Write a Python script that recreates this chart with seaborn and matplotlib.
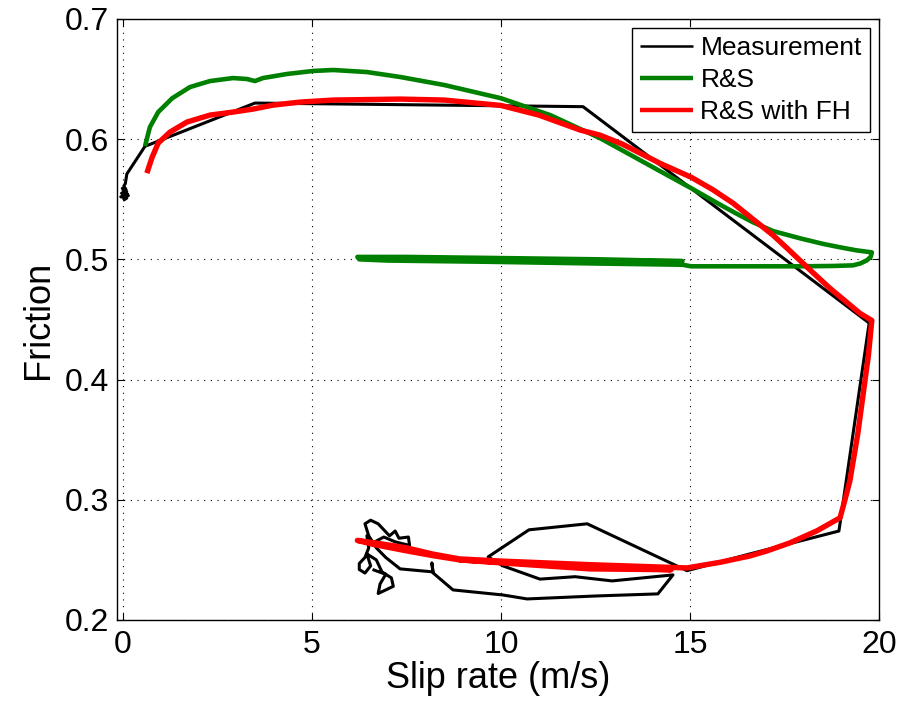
import matplotlib
matplotlib.use("Agg")
import matplotlib.pyplot as plt
import pandas as pd
import seaborn as sns

# Measured friction vs. slip rate (loop: acceleration, peak, deceleration, tangle at the end)
meas_x = [0.00, 0.10, -0.06, 0.12, -0.04, 0.14, 0.00, 0.10, -0.02, 0.08, 0.02, 0.06,
          0.10, 0.58, 3.49, 12.17, 19.74, 18.94,
          16.59, 14.92, 12.28, 10.74, 9.66, 10.05, 11.03, 11.96, 12.94, 14.55, 14.15,
          12.54, 10.69, 10.05, 8.73, 8.20, 8.17, 8.20, 7.33, 6.95, 6.70, 6.50, 6.40,
          6.55, 6.75, 7.05, 7.20, 7.30, 7.55, 7.58, 7.20, 6.90, 6.60, 6.45, 6.50, 6.40,
          6.25, 6.25, 6.40, 6.55, 6.45, 6.70, 6.85, 7.10, 7.15, 6.75, 6.80, 6.95, 6.60]
meas_y = [0.549, 0.551, 0.552, 0.554, 0.555, 0.553, 0.557, 0.556, 0.559, 0.558, 0.561,
          0.563, 0.571, 0.594, 0.630, 0.627, 0.447, 0.274,
          0.255, 0.241, 0.280, 0.275, 0.2525, 0.245, 0.234, 0.236, 0.2325, 0.2375, 0.2217,
          0.2200, 0.2175, 0.2208, 0.2250, 0.2392, 0.2475, 0.2400, 0.2425, 0.2520, 0.2600,
          0.2700, 0.2800, 0.2830, 0.2800, 0.2700, 0.2740, 0.2680, 0.2690, 0.2620, 0.2650,
          0.2690, 0.2640, 0.2700, 0.2600, 0.2520, 0.2470, 0.2420, 0.2390, 0.2450, 0.2550,
          0.2500, 0.2400, 0.2350, 0.2280, 0.2220, 0.2300, 0.2380, 0.2420]

# Rate-and-state model
rs_x = [0.58, 0.71, 0.93, 1.30, 1.77, 2.30, 2.91, 3.28, 3.49, 3.70, 4.34, 5.03, 5.56,
        6.45, 7.33, 8.50, 10.00, 11.30, 12.62, 13.68, 14.40, 15.03, 15.71, 16.20, 16.67,
        17.20, 17.91, 18.50, 18.97, 19.40, 19.81, 19.78, 19.68, 19.50, 19.31, 18.80,
        17.91, 15.03, 14.80, 12.60, 9.60, 7.00, 6.25, 6.20, 7.50, 9.60, 12.60, 14.80,
        12.60, 9.60, 7.50, 6.40]
rs_y = [0.594, 0.610, 0.6225, 0.634, 0.6433, 0.6483, 0.6508, 0.650, 0.6483, 0.6508,
        0.6542, 0.6567, 0.6575, 0.6558, 0.6517, 0.645, 0.634, 0.620, 0.6008, 0.5825,
        0.570, 0.5592, 0.5470, 0.5385, 0.5308, 0.5235, 0.5175, 0.5130, 0.510, 0.5075,
        0.5058, 0.502, 0.4992, 0.4965, 0.495, 0.4945, 0.4942, 0.4942, 0.4955, 0.4965,
        0.4980, 0.4990, 0.5000, 0.5020, 0.5020, 0.5012, 0.5000, 0.4985, 0.4985, 0.4995,
        0.5005, 0.5010]

# Rate-and-state model with flash heating
fh_x = [0.63, 0.77, 0.93, 1.24, 1.69, 2.30, 2.91, 3.44, 3.97, 4.68, 5.56, 7.33, 8.50,
        10.00, 11.00, 12.10, 12.62, 13.20, 14.20, 15.03, 15.60, 16.14, 16.77, 17.20,
        17.57, 18.25, 18.70, 19.15, 19.50, 19.81, 19.72, 19.63, 19.44, 19.23, 19.10,
        18.97, 18.36, 17.65, 17.04, 16.59, 15.80, 14.92, 12.35, 10.00, 8.90, 8.20, 7.50,
        6.90, 6.20, 6.60, 7.50, 8.20, 8.90, 10.00, 12.35, 14.50, 12.35, 10.00, 8.90]
fh_y = [0.5717, 0.585, 0.5967, 0.6058, 0.6142, 0.620, 0.6225, 0.625, 0.6283, 0.6308,
        0.6325, 0.6333, 0.6325, 0.628, 0.620, 0.6075, 0.6033, 0.5960, 0.580, 0.5683,
        0.558, 0.5467, 0.5308, 0.520, 0.5092, 0.489, 0.476, 0.4642, 0.455, 0.4492, 0.420,
        0.3992, 0.355, 0.3158, 0.300, 0.285, 0.2742, 0.2642, 0.2575, 0.2533, 0.2480,
        0.2433, 0.2460, 0.2490, 0.2508, 0.2548, 0.2600, 0.2630, 0.2662, 0.2630, 0.2575,
        0.2535, 0.2500, 0.2475, 0.2425, 0.2418, 0.2440, 0.2480, 0.2500]

x_ticks = [0, 5, 10, 15, 20]
y_ticks = [0.2, 0.3, 0.4, 0.5, 0.6, 0.7]
y_tick_labels = ["0.2", "0.3", "0.4", "0.5", "0.6", "0.7"]

sns.set_theme(style="white")
plt.rcParams["font.family"] = ["Liberation Sans", "DejaVu Sans"]
plt.rcParams.update({"text.color": "black", "axes.labelcolor": "black",
                     "xtick.color": "black", "ytick.color": "black",
                     "lines.solid_joinstyle": "round", "lines.solid_capstyle": "butt"})

fig = plt.figure(figsize=(9.12, 7.03), dpi=100)
ax = fig.add_axes([0.1283, 0.1181, 0.8355, 0.855])

series = [
    ("Measurement", meas_x, meas_y, "black", 2.2),
    ("R&S", rs_x, rs_y, "#008000", 3.3),
    ("R&S with FH", fh_x, fh_y, "#ff0000", 3.9),
]
for name, xs, ys, color, lw in series:
    df = pd.DataFrame({"x": xs, "y": ys})
    sns.lineplot(data=df, x="x", y="y", sort=False, estimator=None,
                 color=color, linewidth=lw, ax=ax, label=name)

ax.set_xlim(-0.16, 20)
ax.set_ylim(0.2, 0.7)
ax.set_xticks(x_ticks)
ax.set_yticks(y_ticks)
ax.set_yticklabels(y_tick_labels)

ax.grid(True, linestyle=(0, (1, 5)), color="black", linewidth=0.8)
ax.set_axisbelow(True)
for s in ax.spines.values():
    s.set_visible(True)
    s.set_color("black")
    s.set_linewidth(1.0)

ax.tick_params(direction="in", length=5, width=0.8, colors="black",
               top=True, right=True, bottom=True, left=True, labelsize=23)
ax.tick_params(axis="x", pad=7)
ax.tick_params(axis="y", pad=6)

ax.set_xlabel("Slip rate (m/s)", fontsize=26, labelpad=1)
ax.set_ylabel("Friction", fontsize=26, labelpad=6)

leg = ax.legend(loc="upper right", fontsize=19, frameon=True, fancybox=False,
                edgecolor="black", framealpha=1, borderaxespad=0.35,
                handlelength=2.0, handletextpad=0.3, labelspacing=0.3,
                borderpad=0.3)
leg.get_frame().set_linewidth(1.0)
for line, w in zip(leg.get_lines(), [1.8, 3.2, 3.2]):
    line.set_linewidth(w)

fig.savefig("out.png", dpi=100)
